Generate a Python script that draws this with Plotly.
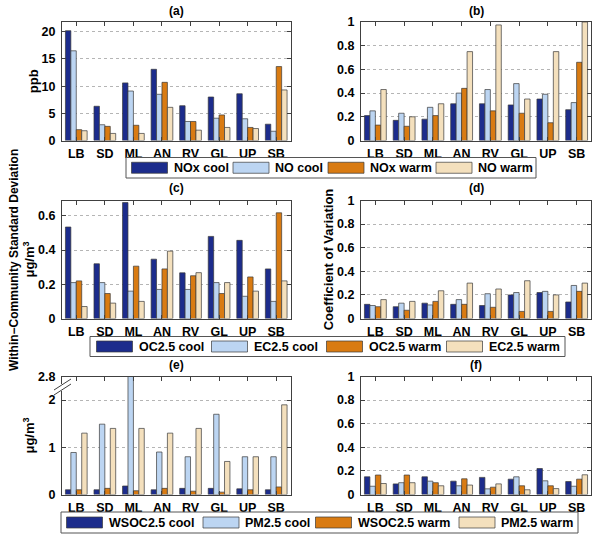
import plotly.graph_objects as go

# ---------------- data ----------------
sites = ["LB", "SD", "ML", "AN", "RV", "GL", "UP", "SB"]

# (a) within-community standard deviation, ppb
a_nox_cool = [20.2, 6.3, 10.6, 13.1, 6.4, 8.0, 8.6, 3.0]
a_no_cool = [16.5, 2.9, 9.1, 8.5, 3.5, 4.1, 4.0, 1.7]
a_nox_warm = [2.0, 2.6, 2.8, 10.7, 3.5, 4.7, 2.4, 13.6]
a_no_warm = [1.8, 1.3, 1.3, 6.1, 1.9, 2.4, 2.2, 9.3]

# (b) coefficient of variation
b_nox_cool = [0.21, 0.17, 0.18, 0.31, 0.31, 0.30, 0.35, 0.26]
b_no_cool = [0.25, 0.23, 0.28, 0.40, 0.43, 0.48, 0.39, 0.32]
b_nox_warm = [0.13, 0.12, 0.21, 0.44, 0.25, 0.23, 0.15, 0.66]
b_no_warm = [0.43, 0.20, 0.31, 0.75, 0.975, 0.35, 0.75, 1.0]

# (c) within-community standard deviation, ug/m3
c_oc_cool = [0.535, 0.32, 0.678, 0.347, 0.267, 0.48, 0.457, 0.29]
c_ec_cool = [0.21, 0.21, 0.16, 0.17, 0.17, 0.21, 0.13, 0.10]
c_oc_warm = [0.22, 0.146, 0.306, 0.29, 0.25, 0.146, 0.243, 0.618]
c_ec_warm = [0.07, 0.09, 0.10, 0.394, 0.268, 0.21, 0.16, 0.22]

# (d) coefficient of variation
d_oc_cool = [0.12, 0.10, 0.13, 0.12, 0.11, 0.20, 0.22, 0.14]
d_ec_cool = [0.11, 0.13, 0.115, 0.16, 0.21, 0.22, 0.23, 0.28]
d_oc_warm = [0.10, 0.07, 0.145, 0.12, 0.095, 0.06, 0.06, 0.23]
d_ec_warm = [0.16, 0.145, 0.235, 0.30, 0.25, 0.32, 0.20, 0.30]

# (e) within-community standard deviation, ug/m3 (axis broken above 2)
e_wsoc_cool = [0.10, 0.10, 0.18, 0.10, 0.13, 0.13, 0.12, 0.10]
e_pm_cool = [0.89, 1.49, 2.8, 0.90, 0.80, 1.70, 0.80, 0.80]
e_wsoc_warm = [0.10, 0.13, 0.08, 0.13, 0.07, 0.05, 0.10, 0.16]
e_pm_warm = [1.30, 1.40, 1.40, 1.30, 1.40, 0.70, 0.80, 1.90]

# (f) coefficient of variation
f_wsoc_cool = [0.15, 0.09, 0.15, 0.113, 0.145, 0.13, 0.22, 0.11]
f_pm_cool = [0.07, 0.10, 0.113, 0.074, 0.048, 0.15, 0.116, 0.07]
f_wsoc_warm = [0.165, 0.165, 0.10, 0.133, 0.062, 0.074, 0.074, 0.13]
f_pm_warm = [0.093, 0.10, 0.074, 0.08, 0.09, 0.04, 0.05, 0.167]

names_1 = ["NOx cool", "NO cool", "NOx warm", "NO warm"]
names_2 = ["OC2.5 cool", "EC2.5 cool", "OC2.5 warm", "EC2.5 warm"]
names_3 = ["WSOC2.5 cool", "PM2.5 cool", "WSOC2.5 warm", "PM2.5 warm"]

# ---------------- style ----------------
W, H = 600, 538
colors = ["#1c2c8c", "#bcd5f2", "#d97b12", "#f4e0bd"]
edge = "#3a3a3a"
FONT = "Liberation Sans, Arial, sans-serif"

panels = [
    ([a_nox_cool, a_no_cool, a_nox_warm, a_no_warm], names_1, "x", "y"),
    ([b_nox_cool, b_no_cool, b_nox_warm, b_no_warm], names_1, "x2", "y2"),
    ([c_oc_cool, c_ec_cool, c_oc_warm, c_ec_warm], names_2, "x3", "y3"),
    ([d_oc_cool, d_ec_cool, d_oc_warm, d_ec_warm], names_2, "x4", "y4"),
    ([e_wsoc_cool, e_pm_cool, e_wsoc_warm, e_pm_warm], names_3, "x5", "y5"),
    ([f_wsoc_cool, f_pm_cool, f_wsoc_warm, f_pm_warm], names_3, "x6", "y6"),
]

fig = go.Figure()
for series, names, xa, ya in panels:
    for vals, nm, col in zip(series, names, colors):
        fig.add_trace(go.Bar(
            x=sites, y=vals, name=nm, showlegend=False,
            marker=dict(color=col, line=dict(color=edge, width=0.7)),
            xaxis=xa, yaxis=ya, hoverinfo="x+y+name",
        ))

def px_x(p):
    return p / W

def px_y(p):
    return 1 - p / H

xl = [px_x(62), px_x(290.5)]
xr = [px_x(361), px_x(591)]
yt = [px_y(140.5), px_y(22)]
ym = [px_y(318.5), px_y(200.5)]
yb = [px_y(494.5), px_y(376.5)]

tickfont = dict(family=FONT, size=12.5, color="black", weight="bold")

def xax(domain, anchor):
    return dict(domain=domain, anchor=anchor, range=[-0.5, 7.5], type="category",
                showline=True, linecolor="#404040", linewidth=1, mirror="allticks",
                ticks="inside", ticklen=4, tickcolor="#404040", tickwidth=1,
                tickfont=tickfont, showgrid=False, zeroline=False, fixedrange=True,
                automargin=False, ticklabelstandoff=1)

def yax(domain, anchor, rng, tickvals, ticktext=None, title=None, standoff=0):
    d = dict(domain=domain, anchor=anchor, range=rng, tickvals=tickvals,
             showline=True, linecolor="#404040", linewidth=1, mirror="allticks",
             ticks="inside", ticklen=4, tickcolor="#404040", tickwidth=1,
             tickfont=tickfont, showgrid=True, gridcolor="#b5b5b5", griddash="dot",
             gridwidth=1, zeroline=False, fixedrange=True, ticklabelstandoff=3,
             automargin=False)
    if ticktext is not None:
        d["ticktext"] = ticktext
    if title is not None:
        d["title"] = dict(text=title, standoff=standoff,
                          font=dict(family=FONT, size=13, color="black", weight="bold"))
    return d

cv_ticks = [0, 0.2, 0.4, 0.6, 0.8, 1]

fig.update_layout(
    width=W, height=H,
    margin=dict(l=0, r=0, t=0, b=0, autoexpand=False),
    paper_bgcolor="white", plot_bgcolor="white",
    font=dict(family=FONT, color="black", weight="bold"),
    barmode="group", bargap=0.24, bargroupgap=0, showlegend=False,
    xaxis=xax(xl, "y"), yaxis=yax(yt, "x", [0, 21.8], [0, 5, 10, 15, 20], title="ppb"),
    xaxis2=xax(xr, "y2"), yaxis2=yax(yt, "x2", [0, 1], cv_ticks),
    xaxis3=xax(xl, "y3"), yaxis3=yax(ym, "x3", [0, 0.69], [0, 0.2, 0.4, 0.6], title="μg/m<sup>3</sup>"),
    xaxis4=xax(xr, "y4"), yaxis4=yax(ym, "x4", [0, 1], cv_ticks, title="Coefficient of Variation"),
    xaxis5=xax(xl, "y5"), yaxis5=yax(yb, "x5", [0, 2.5], [0, 1, 2, 2.5], ["0", "1", "2", "2.8"], title="μg/m<sup>3</sup>"),
    xaxis6=xax(xr, "y6"), yaxis6=yax(yb, "x6", [0, 1], cv_ticks),
)

# ---------------- legends (MATLAB style boxes with wide swatches) ----------------
legfont = dict(family=FONT, size=12.5, color="black", weight="bold")
legend_specs = [
    # names, box (x0, x1, y0, y1) in px, swatch left edges in px
    (names_1, (126, 536, 157.5, 178), [131.5, 233, 328, 436]),
    (names_2, (90, 565, 336.5, 356.5), [96.5, 211.5, 326.5, 446.5]),
    (names_3, (61, 578, 512, 533), [66.5, 203, 315.5, 459]),
]
for names, (bx0, bx1, by0, by1), sw in legend_specs:
    fig.add_shape(type="rect", xref="paper", yref="paper",
                  x0=px_x(bx0), x1=px_x(bx1), y0=px_y(by1), y1=px_y(by0),
                  fillcolor="white", line=dict(color="#555555", width=1))
    yc = (by0 + by1) / 2
    for nm, col, s in zip(names, colors, sw):
        fig.add_shape(type="rect", xref="paper", yref="paper",
                      x0=px_x(s), x1=px_x(s + 36), y0=px_y(yc + 5.5), y1=px_y(yc - 5.5),
                      fillcolor=col, line=dict(color=edge, width=0.7))
        fig.add_annotation(text=nm, x=px_x(s + 40), y=px_y(yc + 0.5), xref="paper", yref="paper",
                           showarrow=False, font=legfont, xanchor="left", yanchor="middle")

# panel letters
titles = [("(a)", xl, 11), ("(b)", xr, 11), ("(c)", xl, 188), ("(d)", xr, 188), ("(e)", xl, 365), ("(f)", xr, 365)]
for t, dom, ypix in titles:
    fig.add_annotation(text=t, x=(dom[0] + dom[1]) / 2, y=px_y(ypix), xref="paper", yref="paper",
                       showarrow=False, font=dict(family=FONT, size=12, color="black", weight="bold"),
                       xanchor="center", yanchor="middle")

# shared left label
fig.add_annotation(text="Within\u2212Community Standard Deviation", x=px_x(14), y=px_y(260),
                   xref="paper", yref="paper", showarrow=False, textangle=-90,
                   font=dict(family=FONT, size=12, color="black", weight="bold"),
                   xanchor="center", yanchor="middle")

# axis break marks on panel (e)
fig.add_shape(type="rect", x0=px_x(60), x1=px_x(64), y0=px_y(391), y1=px_y(384),
              xref="paper", yref="paper", fillcolor="white", line=dict(width=0))
for dy in (0, 5):
    fig.add_shape(type="line", xref="paper", yref="paper",
                  x0=px_x(54), y0=px_y(393 - dy + 2), x1=px_x(71), y1=px_y(382 - dy + 2),
                  line=dict(color="#404040", width=1))

fig.write_html("out.html", config={"displayModeBar": False},
               post_script="document.body.style.margin='0';")
